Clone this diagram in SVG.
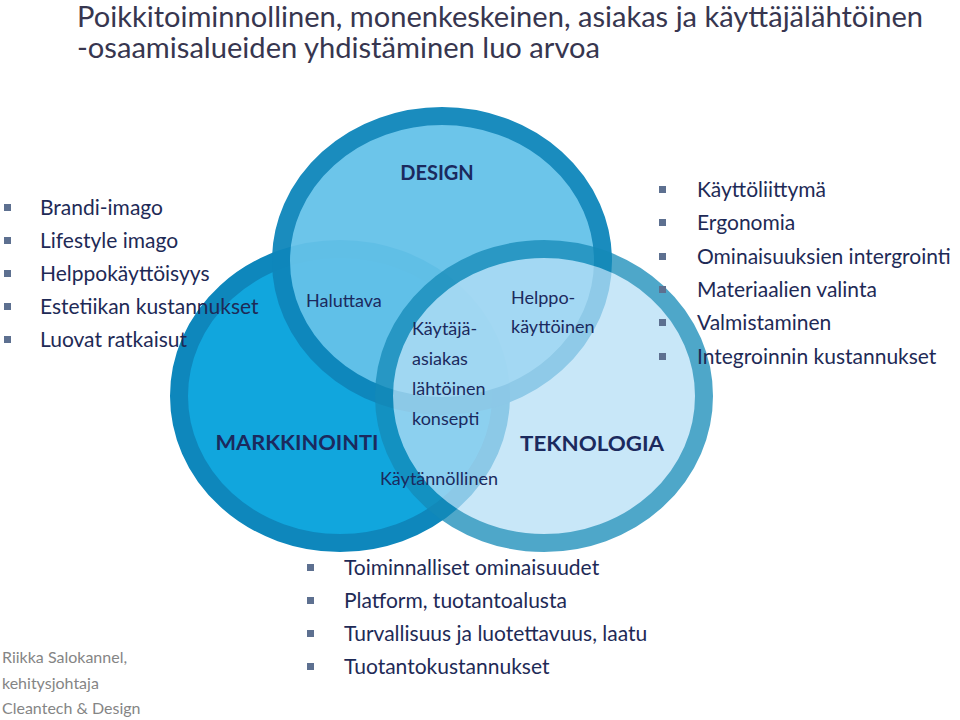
<svg xmlns="http://www.w3.org/2000/svg" width="960" height="720" viewBox="0 0 960 720">
<style>
text{font-family:Lato,"Liberation Sans",sans-serif}
.title{font-size:28px;fill:#37364f}
.item{font-size:21px;fill:#1e2a56}
.lab{font-size:18px;fill:#1b2a5e}
.head{font-size:20px;font-weight:bold;fill:#1b2a5e}
.note{font-size:16px;fill:#858585}
.bul{fill:#5d7090}
</style>
<defs>
<rect id="b" width="7" height="7" class="bul"/>
</defs>
<rect width="960" height="720" fill="#ffffff"/>
<g id="title">
<text class="title" x="77" y="27" textLength="846" lengthAdjust="spacingAndGlyphs">Poikkitoiminnollinen, monenkeskeinen, asiakas ja käyttäjälähtöinen</text>
<text class="title" x="77" y="58" textLength="523" lengthAdjust="spacingAndGlyphs">-osaamisalueiden yhdistäminen luo arvoa</text>
</g>
<g id="markkinointi">
<ellipse cx="340" cy="396" rx="161" ry="147" fill="#11a6dd" stroke="#0e87bc" stroke-width="18"/>
</g>
<g id="design" opacity="0.95">
<ellipse cx="442" cy="261" rx="161" ry="145" fill="#65c2e9" stroke="#0e86bb" stroke-width="18"/>
</g>
<g id="teknologia" opacity="0.75">
<ellipse cx="544" cy="396" rx="160" ry="147" fill="#b6dff6" stroke="#148ab8" stroke-width="18"/>
</g>
<g id="labels">
<text class="head" x="437" y="180" text-anchor="middle">DESIGN</text>
<text class="head" x="297" y="450" text-anchor="middle" textLength="163" lengthAdjust="spacingAndGlyphs">MARKKINOINTI</text>
<text class="head" x="592" y="451" text-anchor="middle" textLength="144" lengthAdjust="spacingAndGlyphs">TEKNOLOGIA</text>
<text class="lab" x="306" y="307">Haluttava</text>
<text class="lab" x="511" y="304">Helppo-</text>
<text class="lab" x="511" y="333">käyttöinen</text>
<text class="lab" x="412" y="335">Käytäjä-</text>
<text class="lab" x="412" y="365">asiakas</text>
<text class="lab" x="412" y="395">lähtöinen</text>
<text class="lab" x="412" y="425">konsepti</text>
<text class="lab" x="380" y="485">Käytännöllinen</text>
</g>
<g id="left-list">
<use href="#b" x="4" y="204"/><text class="item" x="40" y="215">Brandi-imago</text>
<use href="#b" x="4" y="237"/><text class="item" x="40" y="248">Lifestyle imago</text>
<use href="#b" x="4" y="270"/><text class="item" x="40" y="281">Helppokäyttöisyys</text>
<use href="#b" x="4" y="303"/><text class="item" x="40" y="314">Estetiikan kustannukset</text>
<use href="#b" x="4" y="336"/><text class="item" x="40" y="347">Luovat ratkaisut</text>
</g>
<g id="right-list">
<use href="#b" x="659" y="186"/><text class="item" x="697" y="197">Käyttöliittymä</text>
<use href="#b" x="659" y="219"/><text class="item" x="697" y="230">Ergonomia</text>
<use href="#b" x="659" y="253"/><text class="item" x="697" y="264">Ominaisuuksien intergrointi</text>
<use href="#b" x="659" y="286"/><text class="item" x="697" y="297">Materiaalien valinta</text>
<use href="#b" x="659" y="319"/><text class="item" x="697" y="330">Valmistaminen</text>
<use href="#b" x="659" y="353"/><text class="item" x="697" y="364">Integroinnin kustannukset</text>
</g>
<g id="bottom-list">
<use href="#b" x="307" y="564"/><text class="item" x="344" y="575">Toiminnalliset ominaisuudet</text>
<use href="#b" x="307" y="597"/><text class="item" x="344" y="608">Platform, tuotantoalusta</text>
<use href="#b" x="307" y="630"/><text class="item" x="344" y="641">Turvallisuus ja luotettavuus, laatu</text>
<use href="#b" x="307" y="663"/><text class="item" x="344" y="674">Tuotantokustannukset</text>
</g>
<g id="author">
<text class="note" x="2" y="663">Riikka Salokannel,</text>
<text class="note" x="2" y="689">kehitysjohtaja</text>
<text class="note" x="2" y="714">Cleantech &amp; Design</text>
</g>
</svg>
